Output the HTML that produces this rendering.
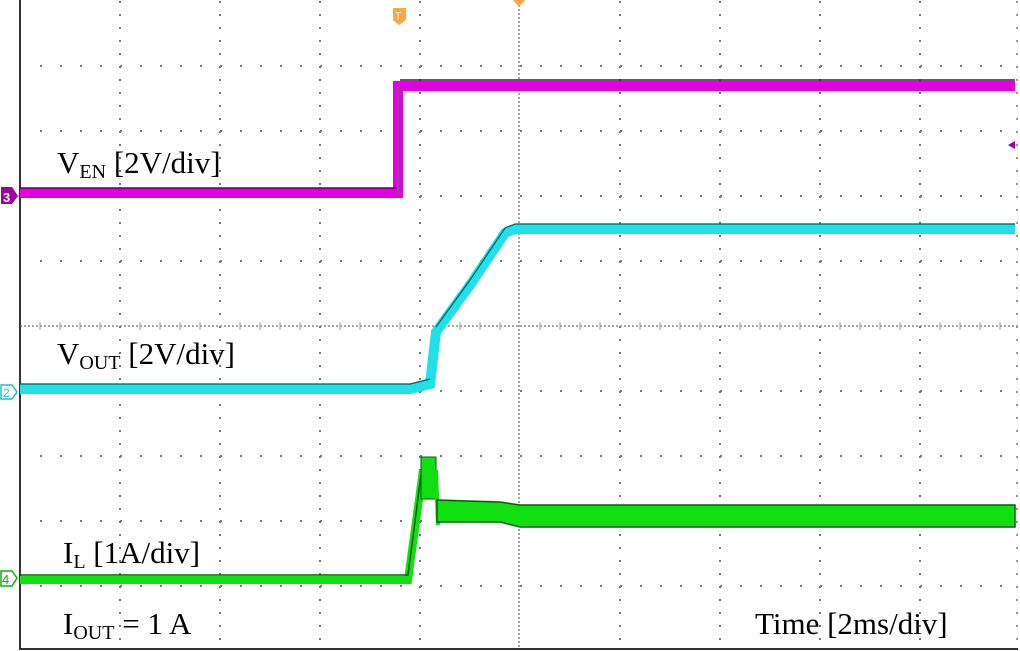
<!DOCTYPE html>
<html><head><style>body{margin:0;background:#fff}svg{display:block}</style></head><body>
<svg width="1020" height="651" viewBox="0 0 1020 651" xmlns="http://www.w3.org/2000/svg">
<rect width="1020" height="651" fill="#fff"/>
<g stroke="#777" stroke-width="2" fill="none">
<g stroke-dasharray="2 11">
<path d="M120 1V649M220 1V649M320 1V649M420 1V649M620 1V649M720 1V649M820 1V649M920 1V649"/>
</g>
<g stroke-dasharray="2 18">
<path d="M40 66H1018M40 131H1018M40 196H1018M40 261H1018M40 391H1018M40 456H1018M40 521H1018M40 586H1018"/>
</g>
<path d="M20 326H1018M519 1V649" stroke="#888" stroke-width="1.5" stroke-dasharray="2 2"/>
<path d="M40 322V330M60 322V330M80 322V330M100 322V330M140 322V330M160 322V330M180 322V330M200 322V330M240 322V330M260 322V330M280 322V330M300 322V330M340 322V330M360 322V330M380 322V330M400 322V330M440 322V330M460 322V330M480 322V330M500 322V330M540 322V330M560 322V330M580 322V330M600 322V330M640 322V330M660 322V330M680 322V330M700 322V330M740 322V330M760 322V330M780 322V330M800 322V330M840 322V330M860 322V330M880 322V330M900 322V330M940 322V330M960 322V330M980 322V330M1000 322V330" stroke="#999" stroke-width="1"/>
<path d="M20 0V649H1018" stroke="#333" stroke-width="2"/>
<path d="M1017 1V649" stroke="#999" stroke-dasharray="2 11"/>
</g>
<!-- magenta -->
<path d="M20 193H398V86H1015" stroke="#e000e0" stroke-width="10" fill="none"/>
<path d="M20 188H397M400 80H1015" stroke="#600060" stroke-width="1.5" fill="none"/>
<path d="M398 193V86" stroke="#a040a0" stroke-width="2" fill="none"/>
<!-- cyan -->
<path d="M20 389H410L430 384L436 332L470 285L505 233L515 229H1015" stroke="#20e0e8" stroke-width="10" fill="none"/>
<path d="M20 384H410L430 379M436 327L470 280L505 228L515 224H1015" stroke="#005860" stroke-width="1.2" fill="none"/>
<!-- green -->
<path d="M20 580H408L423 470" stroke="#10e010" stroke-width="8" fill="none"/>
<rect x="421" y="457" width="15" height="42" fill="#10e010" stroke="#0a5a0a" stroke-width="1"/>
<path d="M436 470L438 525" stroke="#10e010" stroke-width="4"/>
<path d="M437 500L500 502L520 505H1015V527H520L500 522L437 522Z" fill="#10e010" stroke="#0a5a0a" stroke-width="1.5"/>
<path d="M20 575H408L421 475" stroke="#0a5a0a" stroke-width="1.5" fill="none"/>
<!-- markers -->
<path d="M1 187H12L18 196L12 204H1Z" fill="#a000a0"/>
<text x="3" y="202" font-family="Liberation Sans,sans-serif" font-size="13" fill="#fff" font-weight="bold">3</text>
<path d="M1 385H12L17 392L12 399H1Z" fill="#fff" stroke="#20c0d0" stroke-width="1.5"/>
<text x="3" y="397" font-family="Liberation Sans,sans-serif" font-size="12" fill="#20c0d0">2</text>
<path d="M1 571H12L17 578L12 586H1Z" fill="#fff" stroke="#10b010" stroke-width="1.5"/>
<text x="2" y="584" font-family="Liberation Sans,sans-serif" font-size="13" fill="#10b010">4</text>
<path d="M393 8H406V20L399 25L393 20Z" fill="#f8a840"/>
<text x="395" y="19" font-family="Liberation Sans,sans-serif" font-size="10" fill="#fff">T</text>
<path d="M513 0H525L519 7Z" fill="#f8a840"/>
<path d="M1008 145L1015 141V149Z" fill="#a000a0"/>
<!-- labels -->
<g font-family="Liberation Serif,serif" font-size="31" fill="#000">
<text x="57" y="173">V<tspan font-size="20" dy="5">EN</tspan><tspan dy="-5"> [2V/div]</tspan></text>
<text x="57" y="364">V<tspan font-size="20" dy="5">OUT</tspan><tspan dy="-5"> [2V/div]</tspan></text>
<text x="63" y="563">I<tspan font-size="20" dy="5">L</tspan><tspan dy="-5"> [1A/div]</tspan></text>
<text x="63" y="634">I<tspan font-size="20" dy="5">OUT</tspan><tspan dy="-5"> = 1 A</tspan></text>
<text x="755" y="634">Time [2ms/div]</text>
</g>
</svg>
</body></html>
